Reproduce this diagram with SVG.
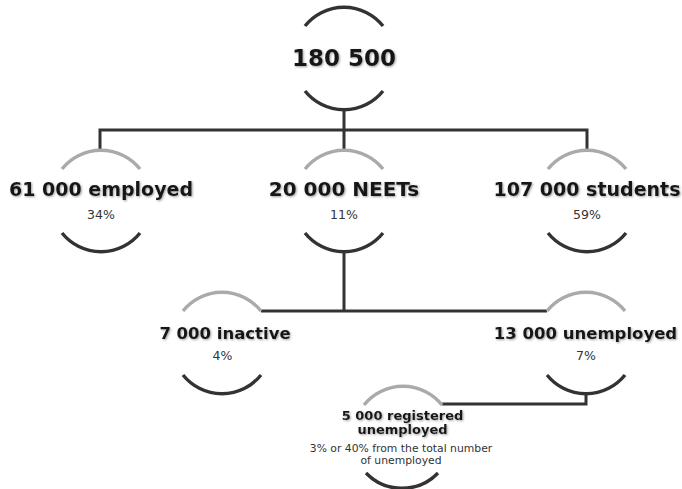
<svg xmlns="http://www.w3.org/2000/svg" width="682" height="489" viewBox="0 0 682 489">
<defs>
<style>
.dark{fill:none;stroke:#333;stroke-width:3.4;stroke-linecap:butt}
.light{fill:none;stroke:#aaa;stroke-width:3.4}
.conn{fill:none;stroke:#333;stroke-width:3}
.t{font-family:"DejaVu Sans",Verdana,sans-serif;font-weight:bold;fill:#141414;text-anchor:middle;filter:url(#sh)}
.p{font-family:"DejaVu Sans",Verdana,sans-serif;fill:#333;text-anchor:middle}
</style>
<filter id="sh" x="-10%" y="-30%" width="120%" height="160%">
<feDropShadow dx="1" dy="1" stdDeviation="0.8" flood-color="#777" flood-opacity="0.7"/>
</filter>
</defs>
<rect width="682" height="489" fill="#fff"/>
<g id="connectors">
<path class="conn" d="M344,110 V130 M100,151 V130 H587 V151 M344,130 V150"/>
<path class="conn" d="M344,252 V311 M261,311 H547"/>
<path class="conn" d="M586,394 V404 H442"/>
</g>
<g id="total">
<path class="dark" d="M305,26 A50,50 0 0 1 383,26"/>
<path class="dark" d="M305,91 A50,50 0 0 0 383,91"/>
<text class="t" x="344" y="66" font-size="23">180 500</text>
</g>
<g id="employed">
<path class="light" d="M62,169 A50,50 0 0 1 140,169"/>
<path class="dark" d="M62,233 A50,50 0 0 0 140,233"/>
<text class="t" x="101" y="196" font-size="19">61 000 employed</text>
<text class="p" x="101" y="219" font-size="12.5">34%</text>
</g>
<g id="neets">
<path class="light" d="M305,169 A50,50 0 0 1 383,169"/>
<path class="dark" d="M305,233 A50,50 0 0 0 383,233"/>
<text class="t" x="344" y="196" font-size="20">20 000 NEETs</text>
<text class="p" x="344" y="219" font-size="12.5">11%</text>
</g>
<g id="students">
<path class="light" d="M548,169 A50,50 0 0 1 626,169"/>
<path class="dark" d="M548,233 A50,50 0 0 0 626,233"/>
<text class="t" x="587" y="196" font-size="19">107 000 students</text>
<text class="p" x="587" y="219" font-size="12.5">59%</text>
</g>
<g id="inactive">
<path class="light" d="M183,311 A50,50 0 0 1 261,311"/>
<path class="dark" d="M183,375 A50,50 0 0 0 261,375"/>
<text class="t" x="225" y="339" font-size="16.5">7 000 inactive</text>
<text class="p" x="222.5" y="360" font-size="12.5">4%</text>
</g>
<g id="unemployed">
<path class="light" d="M547,311 A50,50 0 0 1 625,311"/>
<path class="dark" d="M547,375 A50,50 0 0 0 625,375"/>
<text class="t" x="585.5" y="339" font-size="16.5">13 000 unemployed</text>
<text class="p" x="586" y="360" font-size="12.5">7%</text>
</g>
<g id="registered">
<path class="light" d="M364,405 A50,50 0 0 1 442,405"/>
<path class="dark" d="M366,473 A50,50 0 0 0 438,473"/>
<text class="t" x="402.5" y="420" font-size="13">5 000 registered</text>
<text class="t" x="402.5" y="434" font-size="13">unemployed</text>
<text class="p" x="401" y="452" font-size="10.8">3% or 40% from the total number</text>
<text class="p" x="401" y="464" font-size="10.8">of unemployed</text>
</g>
</svg>
